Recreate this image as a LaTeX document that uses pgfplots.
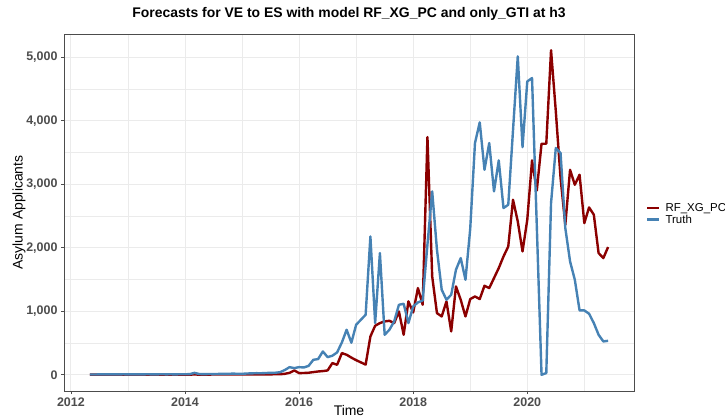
\documentclass[border=0pt]{standalone}
\usepackage{pgfplots}
\usepackage{pgfplotstable}
\pgfplotsset{compat=1.18}
\usepackage{fontspec}
\setmainfont{Liberation Sans}
\definecolor{rfred}{HTML}{8B0000}
\definecolor{truthblue}{HTML}{4682B4}
\definecolor{gridc}{HTML}{EBEBEB}
\definecolor{tickc}{HTML}{4D4D4D}
\pgfplotstableread{
m truth rf
4 5 2
5 4 2
6 6 2
7 5 2
8 7 3
9 6 2
10 5 2
11 8 3
12 6 2
13 7 2
14 5 2
15 6 3
16 8 2
17 7 2
18 6 2
19 9 3
20 7 2
21 8 2
22 6 2
23 9 3
24 8 3
25 10 3
26 30 4
27 12 3
28 10 3
29 12 3
30 11 4
31 13 4
32 15 4
33 14 4
34 18 5
35 16 5
36 15 5
37 20 5
38 22 6
39 25 6
40 24 6
41 28 7
42 30 7
43 32 8
44 40 8
45 75 15
46 120 31
47 105 68
48 120 26
49 115 28
50 140 32
51 236 42
52 247 52
53 367 58
54 278 68
55 300 184
56 352 157
57 509 341
58 709 315
59 505 270
60 787 230
61 866 195
62 945 160
63 2178 603
64 814 772
65 1916 814
66 630 840
67 709 850
68 840 814
69 1102 997
70 1118 630
71 814 1155
72 1076 981
73 1139 1365
74 1170 1102
75 2050 3743
76 2887 1548
77 1969 971
78 1339 918
79 1181 1155
80 1260 682
81 1654 1391
82 1837 1181
83 1496 918
84 2300 1192
85 3649 1233
86 3974 1192
87 3228 1402
88 3649 1365
89 2887 1522
90 3375 1680
91 2625 1863
92 2677 2020
93 3850 2756
94 5013 2415
95 3585 1942
96 4619 2441
97 4672 3375
98 2350 2900
99 0 3638
100 27 3638
101 2704 5110
102 3570 4150
103 3491 3100
104 2310 2360
105 1785 3228
106 1496 2992
107 1013 3150
108 1013 2388
109 961 2635
110 814 2520
111 630 1916
112 525 1837
113 535 2011
}\data
\begin{document}
\begin{tikzpicture}
\useasboundingbox (0,0) rectangle (725bp,419bp);
\begin{axis}[
  at={(64bp,28bp)}, anchor=south west,
  scale only axis, width=570bp, height=357bp,
  xmin=-1.45, xmax=118.45, ymin=-255.5, ymax=5365.5,
  xtick={0,24,48,72,96},
  xticklabels={2012,2014,2016,2018,2020},
  minor xtick={12,36,60,84,108},
  ytick={0,1000,2000,3000,4000,5000},
  minor ytick={500,1500,2500,3500,4500},
  grid=both,
  major grid style={draw=gridc, line width=0.9bp},
  minor grid style={draw=gridc, line width=0.45bp},
  axis line style={draw=black!70, line width=0.8bp},
  xtick pos=bottom, ytick pos=left,
  tick align=outside,
  major tick length=3bp, minor tick length=0pt,
  tick style={draw=tickc, line width=0.6bp},
  /pgf/number format/assume math mode=true,
  /pgf/number format/1000 sep={,},
  scaled y ticks=false,
  ticklabel style={font=\bfseries\fontsize{12.5}{14}\selectfont, text=tickc},
  xlabel={Time}, ylabel={Asylum Applicants},
  label style={font=\fontsize{14}{16}\selectfont},
  xlabel style={at={(axis description cs:0.5,-0.055)}, anchor=center},
  ylabel style={at={(axis description cs:-0.0789,0.5)}, anchor=center, rotate=0},
  title={Forecasts for VE to ES with model RF\_XG\_PC and only\_GTI at h3},
  title style={at={(axis description cs:0.5,1.039)}, anchor=center, font=\bfseries\fontsize{14}{16}\selectfont},
  legend style={at={(1.0158,0.496)}, anchor=west, draw=none, fill=none,
    font=\fontsize{11.5}{13}\selectfont, row sep=-2bp,
    /tikz/every odd column/.append style={column sep=3bp}},
  legend cell align=left,
  legend image code/.code={\draw[#1, line width=2.4bp] (0bp,0bp) -- (12bp,0bp);},
]
\addplot[rfred, line width=2.4bp, line join=round] table[x=m, y=rf] {\data};
\addlegendentry{RF\_XG\_PC}
\addplot[truthblue, line width=2.4bp, line join=round] table[x=m, y=truth] {\data};
\addlegendentry{Truth}
\end{axis}
\end{tikzpicture}
\end{document}
